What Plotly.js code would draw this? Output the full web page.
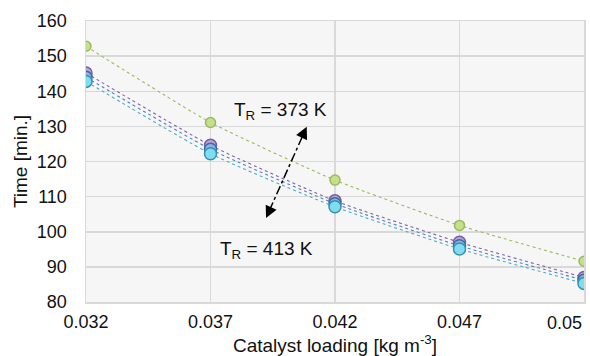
<!DOCTYPE html>
<html>
<head>
<meta charset="utf-8">
<script src="https://cdn.plot.ly/plotly-3.0.1.min.js"></script>
<style>
  html, body { margin: 0; padding: 0; background: #ffffff; }
  #chart { width: 590px; height: 356px; }
</style>
</head>
<body>
<div id="chart"></div>
<script>
// Categories (catalyst loading, kg m^-3)
var loadings = ['0.032', '0.037', '0.042', '0.047', '0.05'];

// Time [min.] for each reaction temperature
var time373 = [152.8, 131.1, 114.7, 101.8, 91.6];
var time393 = [145.2, 124.6, 108.8, 97.0, 87.0];
var time403 = [144.0, 123.5, 108.0, 96.0, 86.2];
var time413 = [142.8, 122.2, 107.1, 95.1, 85.3];

var seriesNames = ['T_R = 373 K', 'T_R = 393 K', 'T_R = 403 K', 'T_R = 413 K'];

function mk(y, name, line, fill, edge, size) {
  return {
    x: loadings, y: y, name: name, type: 'scatter', mode: 'lines+markers',
    line: {color: line, width: 1.1, dash: 'dot', shape: 'spline', smoothing: 0.5},
    marker: {size: size, color: fill, line: {color: edge, width: 1.5}},
    showlegend: false
  };
}

var data = [
  mk(time373, seriesNames[0], '#9BBB59', '#C3E08F', '#9BBB59', 10),
  mk(time393, seriesNames[1], '#8064A2', '#B9A7D3', '#7A5FA0', 12),
  mk(time403, seriesNames[2], '#4F81BD', '#8EB4E3', '#3C6AA8', 12),
  mk(time413, seriesNames[3], '#4BACC6', '#7FDDF2', '#3A8FA8', 12)
];

// arrow end points in axis coordinates (category index, minutes)
var arrowTop = [1.773, 129.9];
var arrowBot = [1.446, 103.9];
var dx = arrowTop[0] - arrowBot[0];
var dy = arrowTop[1] - arrowBot[1];

var lastIdx = loadings.length - 1;

var layout = {
  width: 590, height: 356,
  margin: {l: 86, r: 6, t: 21, b: 54},
  paper_bgcolor: '#ffffff',
  plot_bgcolor: '#f6f6f6',
  font: {family: 'Liberation Sans, Arial, sans-serif', color: '#000000', size: 18},
  xaxis: {
    type: 'category',
    range: [0, lastIdx],
    tickmode: 'array', tickvals: loadings.slice(0, lastIdx), ticktext: loadings.slice(0, lastIdx),
    showgrid: true, gridcolor: '#d9d9d9', gridwidth: 1.5,
    showline: true, linecolor: '#d9d9d9', linewidth: 1.5, mirror: true,
    ticks: '', ticklabelstandoff: 3,
    tickfont: {size: 18, color: '#111111'},
    zeroline: false,
    title: {text: 'Catalyst loading [kg m<sup>-3</sup>]', font: {size: 19, color: '#111111'}, standoff: 8}
  },
  yaxis: {
    range: [80, 160], dtick: 10,
    showgrid: true, gridcolor: '#d9d9d9', gridwidth: 1.5,
    showline: true, linecolor: '#d9d9d9', linewidth: 1.5, mirror: true,
    ticks: '', ticklabelstandoff: 14,
    tickfont: {size: 18, color: '#111111'},
    zeroline: false,
    title: {text: 'Time [min.]', font: {size: 19, color: '#111111'}, standoff: 4}
  },
  shapes: [{
    type: 'line', xref: 'x', yref: 'y',
    x0: arrowBot[0] + dx * 0.08, y0: arrowBot[1] + dy * 0.08,
    x1: arrowTop[0] - dx * 0.08, y1: arrowTop[1] - dy * 0.08,
    line: {color: '#000000', width: 1.5, dash: 'dashdot'}
  }],
  annotations: [
    {x: arrowTop[0], y: arrowTop[1], xref: 'x', yref: 'y', text: '', showarrow: true,
     arrowhead: 2, arrowsize: 1.5, arrowwidth: 1.6, arrowcolor: '#000000', ax: -4, ay: 8.5},
    {x: arrowBot[0], y: arrowBot[1], xref: 'x', yref: 'y', text: '', showarrow: true,
     arrowhead: 2, arrowsize: 1.5, arrowwidth: 1.6, arrowcolor: '#000000', ax: 4, ay: -8.5},
    {x: 1.56, y: 134.4, xref: 'x', yref: 'y', text: 'T<sub>R</sub> = 373 K', showarrow: false,
     font: {size: 19, color: '#111111'}, xanchor: 'center', yanchor: 'middle'},
    {x: 1.45, y: 94.8, xref: 'x', yref: 'y', text: 'T<sub>R</sub> = 413 K', showarrow: false,
     font: {size: 19, color: '#111111'}, xanchor: 'center', yanchor: 'middle'},
    // last category label, kept inside the picture as in the reference
    {x: 1, y: 0, xref: 'paper', yref: 'paper', xanchor: 'right', yanchor: 'top', yshift: -9,
     text: loadings[lastIdx], showarrow: false, font: {size: 18, color: '#111111'}}
  ]
};

Plotly.newPlot('chart', data, layout, {staticPlot: true, displayModeBar: false});
</script>
</body>
</html>
